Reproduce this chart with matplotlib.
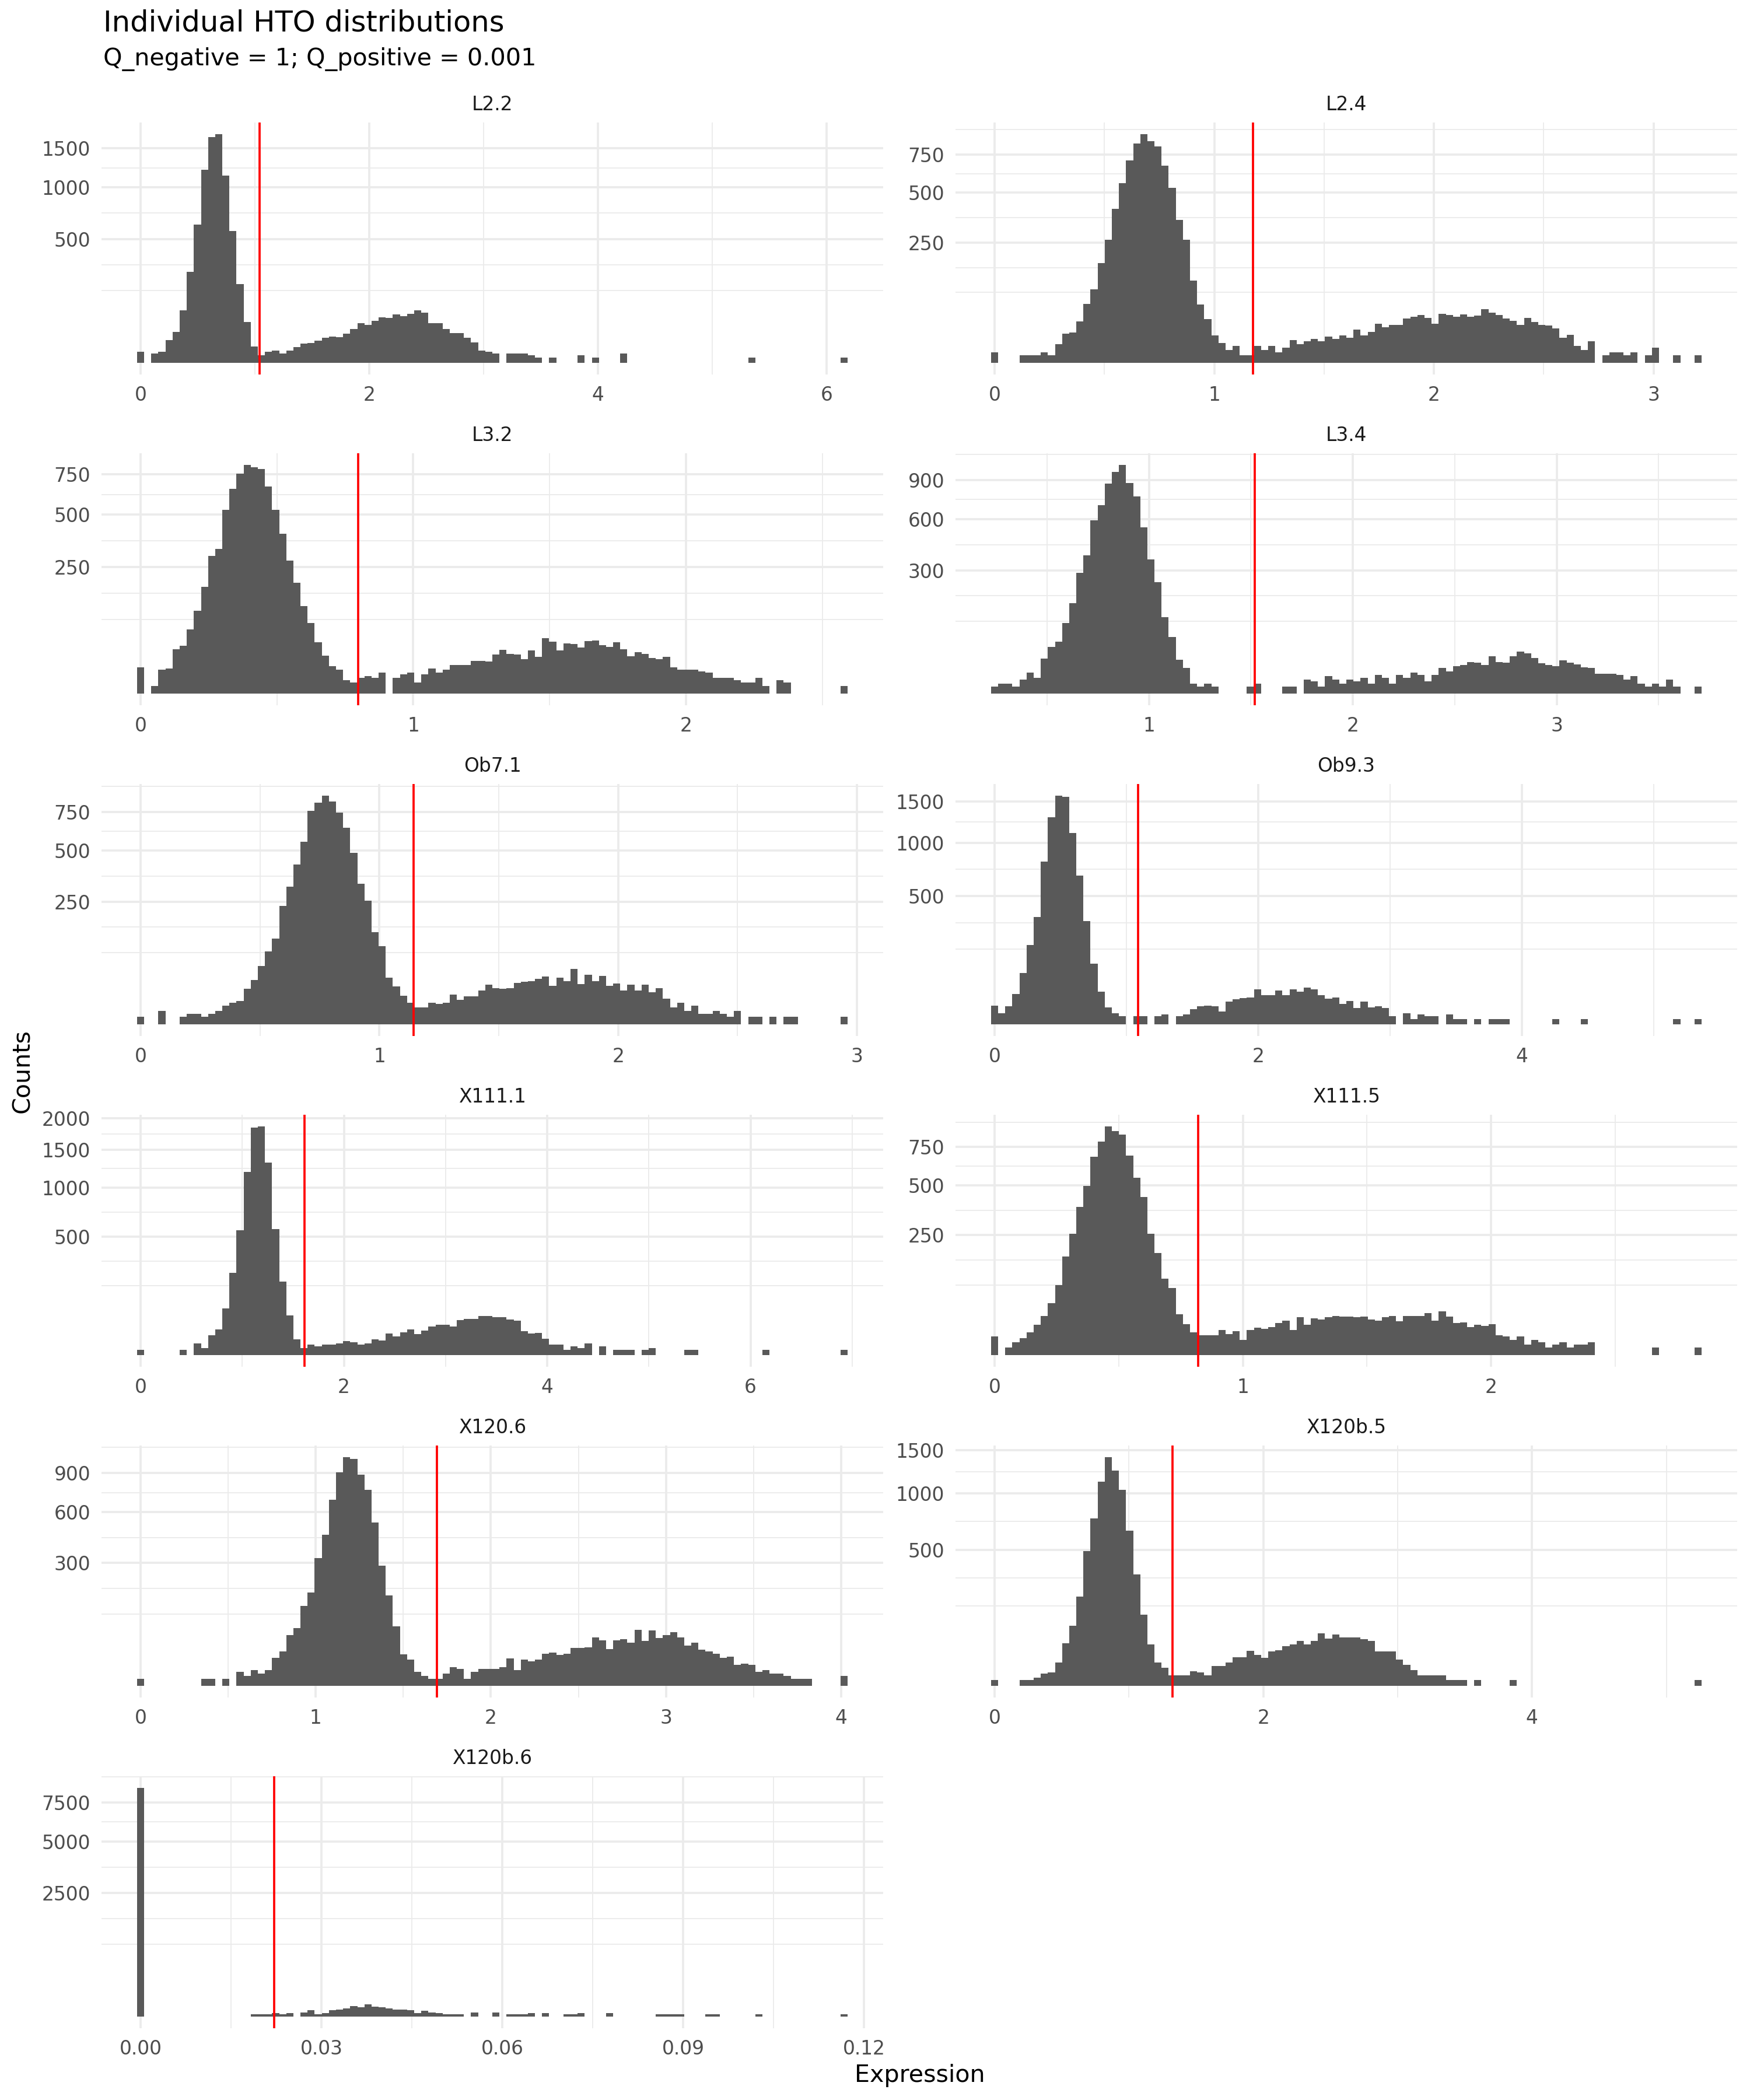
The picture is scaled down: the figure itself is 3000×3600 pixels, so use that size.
import numpy as np
import matplotlib
matplotlib.use("Agg")
import matplotlib.pyplot as plt

# ---- data (100 bins per HTO) ----
hto_names = ["L2.2", "L2.4", "L3.2", "L3.4", "Ob7.1", "Ob9.3",
             "X111.1", "X111.5", "X120.6", "X120b.5", "X120b.6"]

# centre of first and last bin
bin_first = [0, 0, 0, 0.242, 0, 0, 0, 0, 0, 0, 0]
bin_last = [6.154, 3.203, 2.58, 3.694, 2.946, 5.336, 6.92, 2.834, 4.017, 5.236, 0.1167]

# cutoff (red line)
cutoffs = [1.041, 1.176, 0.798, 1.519, 1.144, 1.09, 1.61, 0.821, 1.691, 1.326, 0.0222]

y_breaks = [[500, 1000, 1500], [250, 500, 750], [250, 500, 750], [300, 600, 900],
            [250, 500, 750], [500, 1000, 1500], [500, 1000, 1500, 2000],
            [250, 500, 750], [300, 600, 900], [500, 1000, 1500], [2500, 5000, 7500]]

x_breaks = [[0, 2, 4, 6], [0, 1, 2, 3], [0, 1, 2], [1, 2, 3], [0, 1, 2, 3], [0, 2, 4],
            [0, 2, 4, 6], [0, 1, 2], [0, 1, 2, 3, 4], [0, 2, 4],
            [0.00, 0.03, 0.06, 0.09, 0.12]]

counts_L2_2 = [4, 0, 3, 4, 17, 31, 91, 270, 621, 1210,
               1653, 1702, 1143, 566, 203, 54, 9, 2, 4, 5,
               3, 5, 8, 12, 13, 16, 21, 23, 22, 28,
               37, 51, 47, 57, 68, 66, 77, 71, 78, 91,
               82, 51, 52, 37, 29, 29, 21, 14, 5, 4,
               3, 0, 3, 3, 3, 2, 1, 0, 1, 0,
               0, 0, 2, 0, 1, 0, 0, 0, 3, 0,
               0, 0, 0, 0, 0, 0, 0, 0, 0, 0,
               0, 0, 0, 0, 0, 0, 1, 0, 0, 0,
               0, 0, 0, 0, 0, 0, 0, 0, 0, 1]

counts_L2_4 = [2, 0, 0, 0, 1, 1, 1, 2, 1, 6,
               15, 16, 30, 60, 93, 173, 261, 411, 558, 709,
               831, 905, 850, 810, 673, 529, 353, 262, 117, 59,
               33, 13, 7, 3, 5, 1, 1, 5, 3, 5,
               2, 4, 9, 6, 8, 10, 8, 12, 10, 13,
               11, 19, 13, 17, 27, 22, 25, 25, 34, 37,
               40, 35, 27, 42, 40, 37, 41, 37, 39, 50,
               44, 40, 34, 31, 25, 35, 29, 25, 24, 21,
               11, 14, 5, 3, 8, 0, 1, 2, 2, 1,
               2, 0, 1, 4, 0, 0, 1, 0, 0, 1]

counts_L3_2 = [11, 0, 1, 9, 10, 31, 36, 65, 107, 179,
               297, 327, 528, 653, 756, 818, 801, 787, 668, 528,
               400, 276, 192, 120, 78, 41, 23, 12, 9, 3,
               2, 4, 5, 4, 7, 0, 4, 6, 7, 2,
               6, 10, 7, 9, 13, 13, 13, 17, 17, 16,
               24, 30, 25, 24, 19, 29, 21, 48, 42, 29,
               40, 39, 33, 43, 44, 37, 34, 41, 31, 22,
               27, 25, 20, 19, 21, 11, 9, 9, 9, 8,
               7, 4, 4, 4, 3, 2, 2, 4, 1, 0,
               3, 2, 0, 0, 0, 0, 0, 0, 0, 1]

counts_L3_4 = [1, 2, 2, 1, 4, 9, 5, 24, 43, 53,
               99, 162, 288, 377, 591, 700, 870, 967, 1032, 876,
               768, 544, 355, 244, 115, 63, 23, 13, 2, 1,
               2, 1, 0, 0, 0, 0, 1, 2, 0, 0,
               0, 1, 1, 0, 4, 3, 1, 6, 4, 2,
               4, 3, 5, 2, 7, 5, 2, 7, 5, 9,
               7, 3, 7, 13, 10, 15, 16, 20, 19, 16,
               28, 20, 19, 28, 35, 32, 25, 18, 16, 15,
               22, 19, 17, 14, 13, 8, 8, 8, 7, 4,
               6, 2, 1, 2, 1, 4, 1, 0, 0, 1]

counts_Ob7_1 = [1, 0, 0, 3, 0, 0, 1, 2, 2, 1,
                2, 3, 6, 8, 9, 21, 33, 57, 88, 123,
                233, 314, 423, 555, 756, 815, 869, 825, 743, 641,
                489, 328, 254, 142, 101, 36, 24, 14, 8, 5,
                5, 8, 7, 8, 15, 10, 13, 13, 19, 26,
                22, 21, 22, 29, 30, 31, 35, 38, 25, 36,
                31, 51, 27, 41, 31, 39, 25, 28, 19, 26,
                19, 26, 17, 22, 11, 5, 8, 3, 6, 2,
                2, 3, 2, 1, 3, 0, 1, 1, 0, 1,
                0, 1, 1, 0, 0, 0, 0, 0, 0, 1]

counts_Ob9_3 = [11, 4, 10, 28, 80, 190, 348, 803, 1302, 1586,
                1568, 1109, 671, 322, 113, 33, 9, 4, 2, 0,
                2, 2, 0, 2, 3, 0, 2, 3, 7, 10,
                11, 10, 5, 16, 19, 21, 22, 37, 26, 26,
                35, 26, 38, 33, 41, 37, 26, 20, 22, 13,
                17, 8, 16, 9, 10, 8, 2, 0, 4, 1,
                3, 2, 2, 0, 3, 1, 1, 0, 1, 0,
                1, 1, 1, 0, 0, 0, 0, 0, 0, 1,
                0, 0, 0, 1, 0, 0, 0, 0, 0, 0,
                0, 0, 0, 0, 0, 0, 1, 0, 0, 1]

counts_X111_1 = [1, 0, 0, 0, 0, 0, 1, 0, 5, 2,
                 14, 24, 78, 242, 557, 1192, 1839, 1865, 1317, 564,
                 192, 56, 9, 2, 4, 3, 4, 4, 5, 7,
                 6, 4, 5, 9, 8, 17, 13, 19, 24, 16,
                 22, 29, 33, 33, 29, 44, 47, 47, 55, 55,
                 52, 51, 46, 43, 21, 17, 18, 10, 4, 4,
                 1, 3, 2, 5, 0, 3, 0, 1, 1, 1,
                 0, 1, 2, 0, 0, 0, 0, 1, 1, 0,
                 0, 0, 0, 0, 0, 0, 0, 0, 1, 0,
                 0, 0, 0, 0, 0, 0, 0, 0, 0, 1]

counts_X111_5 = [6, 0, 1, 3, 5, 9, 16, 27, 47, 85,
                 169, 256, 381, 495, 681, 789, 908, 870, 843, 692,
                 546, 434, 255, 181, 102, 79, 29, 17, 9, 7,
                 7, 7, 11, 8, 10, 4, 11, 13, 12, 14,
                 18, 21, 11, 25, 16, 24, 22, 25, 27, 26,
                 26, 25, 26, 22, 21, 25, 27, 20, 27, 27,
                 27, 31, 21, 33, 26, 18, 19, 14, 16, 15,
                 17, 7, 6, 4, 6, 2, 4, 3, 1, 2,
                 3, 1, 2, 2, 3, 0, 0, 0, 0, 0,
                 0, 0, 0, 1, 0, 0, 0, 0, 0, 1]

counts_X120_6 = [1, 0, 0, 0, 0, 0, 0, 0, 0, 1,
                 1, 0, 1, 0, 4, 2, 5, 3, 5, 16,
                 24, 52, 66, 128, 174, 324, 453, 689, 907, 1040,
                 1024, 887, 761, 530, 286, 162, 71, 20, 14, 4,
                 2, 1, 1, 3, 7, 6, 1, 4, 6, 6,
                 6, 7, 15, 5, 14, 12, 14, 21, 22, 19,
                 21, 29, 29, 30, 47, 41, 27, 41, 44, 37,
                 63, 40, 61, 46, 52, 58, 47, 32, 37, 26,
                 24, 21, 16, 17, 9, 10, 9, 4, 5, 3,
                 3, 2, 1, 1, 1, 0, 0, 0, 0, 2]

counts_X120b_5 = [1, 0, 0, 0, 1, 1, 2, 4, 5, 15,
                  49, 98, 215, 491, 758, 1124, 1412, 1249, 1034, 651,
                  335, 136, 46, 15, 9, 3, 3, 3, 6, 5,
                  3, 11, 11, 15, 22, 22, 33, 26, 21, 32,
                  35, 43, 46, 55, 46, 55, 74, 60, 72, 64,
                  63, 63, 59, 55, 32, 32, 32, 19, 12, 7,
                  3, 3, 3, 3, 1, 1, 1, 0, 1, 0,
                  0, 0, 0, 1, 0, 0, 0, 0, 0, 0,
                  0, 0, 0, 0, 0, 0, 0, 0, 0, 0,
                  0, 0, 0, 0, 0, 0, 0, 0, 0, 1]

counts_X120b_6 = [8556, 0, 0, 0, 0, 0, 0, 0, 0, 0,
                  0, 0, 0, 0, 0, 0, 1, 1, 1, 2,
                  1, 2, 0, 3, 7, 1, 2, 7, 9, 11,
                  18, 15, 25, 17, 14, 11, 9, 9, 7, 2,
                  6, 3, 2, 1, 1, 1, 0, 3, 0, 0,
                  3, 0, 1, 1, 1, 2, 0, 2, 0, 0,
                  1, 1, 2, 0, 0, 0, 2, 0, 0, 0,
                  0, 0, 0, 1, 1, 1, 1, 0, 0, 0,
                  1, 1, 0, 0, 0, 0, 0, 1, 0, 0,
                  0, 0, 0, 0, 0, 0, 0, 0, 0, 1]

all_counts = [counts_L2_2, counts_L2_4, counts_L3_2, counts_L3_4, counts_Ob7_1,
              counts_Ob9_3, counts_X111_1, counts_X111_5, counts_X120_6,
              counts_X120b_5, counts_X120b_6]


def sqrt_fwd(v):
    v = np.asarray(v, dtype=float)
    return np.sign(v) * np.sqrt(np.abs(v))


def sqrt_inv(v):
    v = np.asarray(v, dtype=float)
    return np.sign(v) * v ** 2


def minor_breaks(major, lo, hi, fwd=None, inv=None):
    # ggplot style: midpoints between majors, extended one step each side
    b = np.asarray(major, dtype=float)
    if fwd is not None:
        b = fwd(b)
        lo, hi = fwd(lo), fwd(hi)
    step = b[1] - b[0]
    b = np.concatenate([[b[0] - step], b, [b[-1] + step]])
    mids = (b[:-1] + b[1:]) / 2
    out = np.sort(np.concatenate([b, mids]))
    out = out[(out >= lo) & (out <= hi)]
    if inv is not None:
        out = inv(out)
    return out


W, H = 3000, 3600
fig = plt.figure(figsize=(10, 12), dpi=300)
fig.patch.set_facecolor("white")

grid_col = "#EBEBEB"
txt_col = "#4D4D4D"
col_left = [174, 1638]
panel_w, panel_h = 1340, 432

for i, name in enumerate(hto_names):
    row, col = divmod(i, 2)
    top = 210 + 567 * row
    ax = fig.add_axes([col_left[col] / W, 1 - (top + panel_h) / H, panel_w / W, panel_h / H])

    counts = np.array(all_counts[i])
    centers = np.linspace(bin_first[i], bin_last[i], len(counts))
    w = centers[1] - centers[0]

    ax.set_yscale("function", functions=(sqrt_fwd, sqrt_inv))
    ax.bar(centers, counts, width=w, color="#595959", edgecolor="none", zorder=2)
    ax.axvline(cutoffs[i], color="red", lw=0.9, zorder=3)

    xmin = min(centers[0] - w / 2, cutoffs[i])
    xmax = max(centers[-1] + w / 2, cutoffs[i])
    pad = 0.05 * (xmax - xmin)
    ax.set_xlim(xmin - pad, xmax + pad)
    m = np.sqrt(counts.max())
    ylo, yhi = -(0.05 * m) ** 2, (1.05 * m) ** 2
    ax.set_ylim(ylo, yhi)

    ax.set_yticks(y_breaks[i])
    ax.set_yticklabels([str(v) for v in y_breaks[i]])
    ax.set_yticks(minor_breaks(y_breaks[i], ylo, yhi, sqrt_fwd, sqrt_inv), minor=True)

    ax.set_xticks(x_breaks[i])
    if name == "X120b.6":
        ax.set_xticklabels(["%.2f" % v for v in x_breaks[i]])
    else:
        ax.set_xticklabels([str(v) for v in x_breaks[i]])
    ax.set_xticks(minor_breaks(x_breaks[i], xmin - pad, xmax + pad), minor=True)

    ax.grid(which="major", color=grid_col, lw=0.9, zorder=0)
    ax.grid(which="minor", color=grid_col, lw=0.45, zorder=0)
    ax.set_axisbelow(True)
    ax.tick_params(which="both", length=0, labelsize=7.9, labelcolor=txt_col, pad=4.5)
    for s in ax.spines.values():
        s.set_visible(False)
    ax.set_title(name, fontsize=7.9, color="#1A1A1A", pad=5)

fig.text(177 / W, 1 - 16 / H, "Individual HTO distributions", fontsize=11.9,
         ha="left", va="top", color="black")
fig.text(177 / W, 1 - 81 / H, "Q_negative = 1; Q_positive = 0.001", fontsize=9.9,
         ha="left", va="top", color="black")
fig.text(39 / W, 0.49, "Counts", fontsize=9.9, rotation=90, ha="center", va="center")
fig.text(0.5257, 0.0118, "Expression", fontsize=9.9, ha="center", va="center")

fig.savefig("out.png", dpi=300, facecolor="white")
